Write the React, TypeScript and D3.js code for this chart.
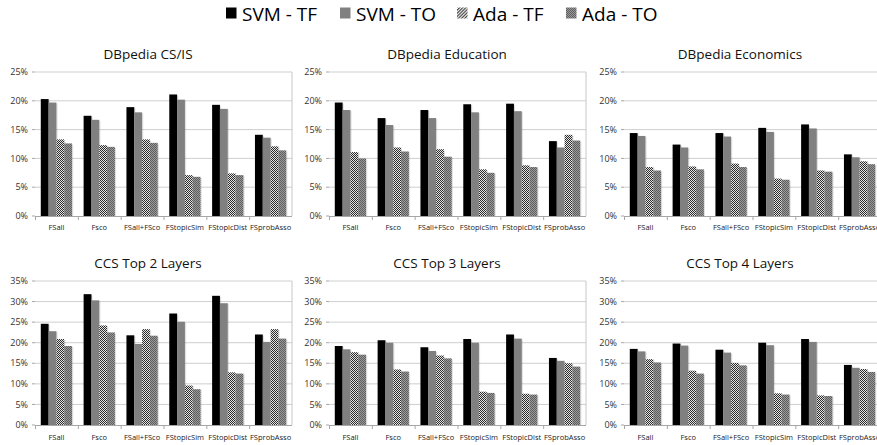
import React from "react";
import * as d3 from "d3";

const categories = ["FSall", "Fsco", "FSall+FSco", "FStopicSim", "FStopicDist", "FSprobAsso"];
const seriesNames = ["SVM - TF", "SVM - TO", "Ada - TF", "Ada - TO"];
const topTicks = [0, 5, 10, 15, 20, 25];
const bottomTicks = [0, 5, 10, 15, 20, 25, 30, 35];

// DBpedia CS/IS
const csisSvmTf = [20.3, 17.4, 18.9, 21.1, 19.3, 14.1];
const csisSvmTo = [19.7, 16.7, 18.0, 20.2, 18.6, 13.6];
const csisAdaTf = [13.3, 12.3, 13.3, 7.1, 7.4, 12.1];
const csisAdaTo = [12.6, 12.0, 12.7, 6.8, 7.1, 11.4];
// DBpedia Education
const eduSvmTf = [19.7, 17.0, 18.4, 19.4, 19.5, 13.0];
const eduSvmTo = [18.4, 15.8, 17.0, 18.0, 18.2, 11.9];
const eduAdaTf = [11.1, 11.9, 11.6, 8.1, 8.8, 14.1];
const eduAdaTo = [10.0, 11.2, 10.3, 7.5, 8.5, 13.1];
// DBpedia Economics
const ecoSvmTf = [14.4, 12.4, 14.4, 15.3, 15.9, 10.7];
const ecoSvmTo = [13.9, 11.9, 13.8, 14.6, 15.2, 10.2];
const ecoAdaTf = [8.5, 8.6, 9.1, 6.5, 7.9, 9.5];
const ecoAdaTo = [7.9, 8.1, 8.5, 6.3, 7.7, 9.0];
// CCS Top 2 Layers
const ccs2SvmTf = [24.6, 31.8, 21.8, 27.1, 31.4, 22.0];
const ccs2SvmTo = [22.8, 30.3, 19.7, 25.1, 29.6, 20.2];
const ccs2AdaTf = [20.9, 24.2, 23.3, 9.6, 12.8, 23.3];
const ccs2AdaTo = [19.2, 22.5, 21.7, 8.7, 12.5, 21.0];
// CCS Top 3 Layers
const ccs3SvmTf = [19.2, 20.6, 18.9, 20.9, 22.0, 16.3];
const ccs3SvmTo = [18.4, 20.0, 18.0, 20.0, 21.0, 15.6];
const ccs3AdaTf = [17.7, 13.5, 16.9, 8.1, 7.6, 15.0];
const ccs3AdaTo = [17.1, 13.0, 16.2, 7.8, 7.4, 14.2];
// CCS Top 4 Layers
const ccs4SvmTf = [18.5, 19.8, 18.3, 20.0, 20.9, 14.6];
const ccs4SvmTo = [17.9, 19.3, 17.6, 19.4, 20.2, 13.9];
const ccs4AdaTf = [16.0, 13.2, 15.1, 7.7, 7.2, 13.6];
const ccs4AdaTo = [15.2, 12.5, 14.5, 7.4, 7.05, 12.9];

const panelTitles = [
  "DBpedia CS/IS", "DBpedia Education", "DBpedia Economics",
  "CCS Top 2 Layers", "CCS Top 3 Layers", "CCS Top 4 Layers",
];
const panelData = [
  [csisSvmTf, csisSvmTo, csisAdaTf, csisAdaTo],
  [eduSvmTf, eduSvmTo, eduAdaTf, eduAdaTo],
  [ecoSvmTf, ecoSvmTo, ecoAdaTf, ecoAdaTo],
  [ccs2SvmTf, ccs2SvmTo, ccs2AdaTf, ccs2AdaTo],
  [ccs3SvmTf, ccs3SvmTo, ccs3AdaTf, ccs3AdaTo],
  [ccs4SvmTf, ccs4SvmTo, ccs4AdaTf, ccs4AdaTo],
];

const W = 877;
const H = 445;
const FONT = "'Open Sans', 'Noto Sans', sans-serif";
const barFills = ["#000000", "#808080", "url(#adaTfBar)", "url(#adaTo)"];
const legendFills = ["#000000", "#808080", "url(#adaTf)", "url(#adaTo)"];

const colLeft = [35, 329, 624];
const colTitleX = [148, 447, 740];
const plotW = 257;
const rows = [
  { top: 72, bottom: 216, titleY: 59, labelY: 229.5, ticks: topTicks, max: 25 },
  { top: 281, bottom: 425, titleY: 268, labelY: 440, ticks: bottomTicks, max: 35 },
];

function Panel({ idx }: { idx: number }) {
  const col = idx % 3;
  const row = rows[Math.floor(idx / 3)];
  const left = colLeft[col];
  const right = left + plotW;
  const x0 = d3.scaleBand<string>().domain(categories).range([left, right]).padding(0);
  const x1 = d3
    .scaleBand<string>()
    .domain(seriesNames)
    .range([0, x0.bandwidth()])
    .paddingInner(0)
    .paddingOuter(0.74);
  const y = d3.scaleLinear().domain([0, row.max]).range([row.bottom, row.top]);
  const data = panelData[idx];
  return (
    <g>
      <text
        x={colTitleX[col]}
        y={row.titleY}
        textAnchor="middle"
        fontSize={13.5}
        fill="#111"
        fontFamily={FONT}
      >
        {panelTitles[idx]}
      </text>
      {row.ticks.map((t) => (
        <g key={t}>
          {t > 0 && (
            <line x1={left} x2={right} y1={y(t)} y2={y(t)} stroke="#cfcfcf" strokeWidth={1} />
          )}
          <line x1={left - 3} x2={left} y1={y(t)} y2={y(t)} stroke="#a6a6a6" strokeWidth={1} />
          <text
            x={left - 7}
            y={y(t)}
            dy="0.35em"
            textAnchor="end"
            fontSize={9}
            fill="#333"
            fontFamily={FONT}
          >
            {t + "%"}
          </text>
        </g>
      ))}
      <line x1={right} x2={right} y1={row.top} y2={row.bottom} stroke="#c8c8c8" strokeWidth={1} />
      {categories.map((c, ci) =>
        data.map((vals, si) => {
          const bx = (x0(c) as number) + (x1(seriesNames[si]) as number);
          const bw = x1.bandwidth();
          const by = y(vals[ci]);
          return (
            <g key={c + si}>
              <rect x={bx + 1.2} y={by + 1} width={bw} height={row.bottom - by - 1} fill="#000" opacity={0.12} />
              <rect x={bx} y={by} width={bw} height={row.bottom - by} fill={barFills[si]} />
            </g>
          );
        })
      )}
      <line x1={left} x2={right} y1={row.bottom + 0.5} y2={row.bottom + 0.5} stroke="#a6a6a6" strokeWidth={1} />
      {categories.map((c) => (
        <line
          key={"tk" + c}
          x1={(x0(c) as number) + 0.5}
          x2={(x0(c) as number) + 0.5}
          y1={row.bottom}
          y2={row.bottom + 4}
          stroke="#a6a6a6"
        />
      ))}
      {categories.map((c) => (
        <text
          key={"lb" + c}
          x={(x0(c) as number) + x0.bandwidth() / 2}
          y={row.labelY}
          textAnchor="middle"
          fontSize={7.5}
          fill="#222"
          fontFamily={FONT}
        >
          {c}
        </text>
      ))}
    </g>
  );
}

const legendX = [226, 340, 457, 566];

export default function App() {
  return (
    <svg
      width={W}
      height={H}
      style={{ position: "absolute", left: 0, top: 0, background: "#fff" }}
    >
      <defs>
        <pattern id="adaTf" width={2.2} height={2.2} patternUnits="userSpaceOnUse" patternTransform="rotate(45)">
          <rect width={2.2} height={2.2} fill="#ffffff" />
          <rect width={1} height={2.2} fill="#222" />
        </pattern>
        <pattern id="adaTfBar" width={2} height={2} patternUnits="userSpaceOnUse">
          <rect width={2} height={2} fill="#e6e6e6" />
          <rect width={1} height={1} fill="#2a2a2a" />
          <rect x={1} y={1} width={1} height={1} fill="#2a2a2a" />
        </pattern>
        <pattern id="adaTo" width={2} height={2} patternUnits="userSpaceOnUse">
          <rect width={2} height={2} fill="#9a9a9a" />
          <rect width={1} height={1} fill="#5e5e5e" />
          <rect x={1} y={1} width={1} height={1} fill="#5e5e5e" />
        </pattern>
      </defs>
      <rect width={W} height={H} fill="#fff" />
      {seriesNames.map((s, i) => (
        <g key={s}>
          <rect x={legendX[i]} y={7.5} width={10.5} height={11} fill={legendFills[i]} />
          <text x={legendX[i] + 16} y={21} fontSize={19} fill="#000" fontFamily={FONT}>
            {s}
          </text>
        </g>
      ))}
      {panelTitles.map((_, i) => (
        <Panel key={i} idx={i} />
      ))}
    </svg>
  );
}
